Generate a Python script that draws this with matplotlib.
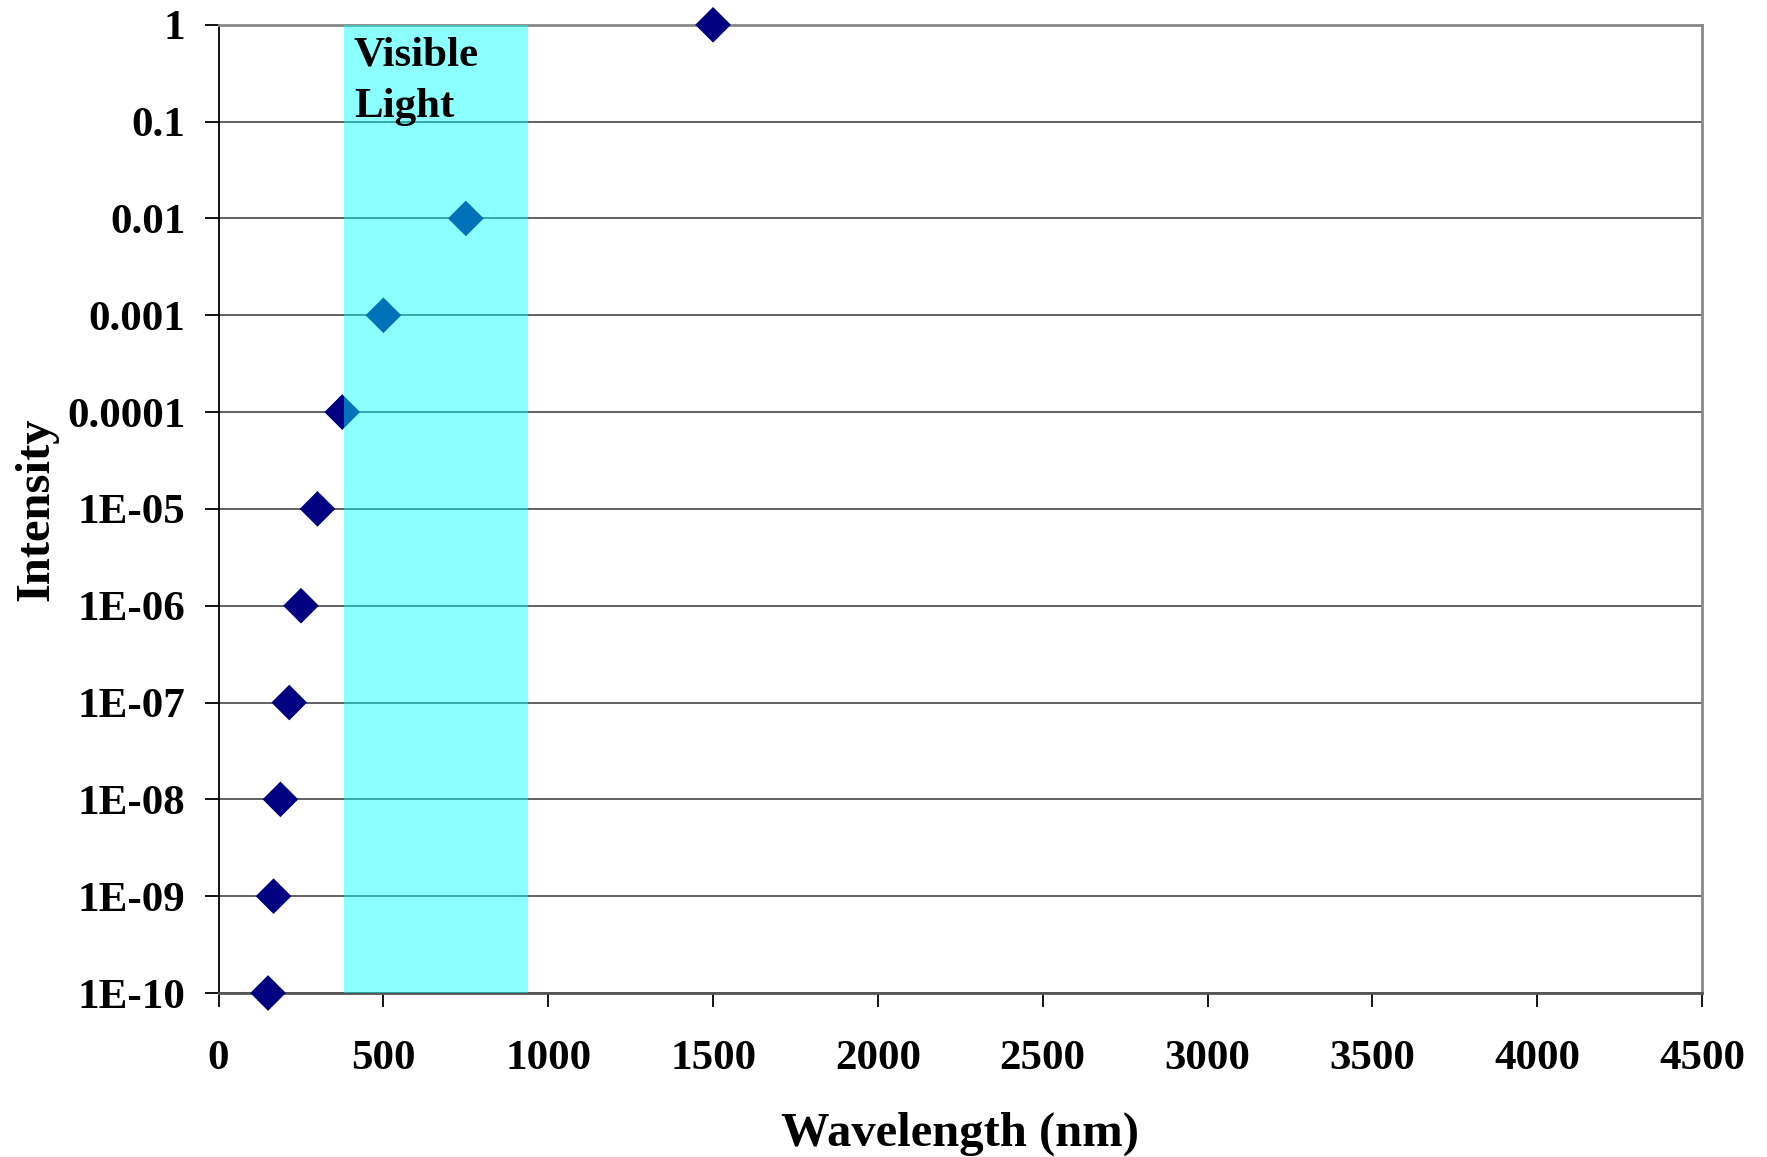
import matplotlib
matplotlib.use("Agg")
import matplotlib.pyplot as plt
from matplotlib.patches import Rectangle
from matplotlib.ticker import FixedLocator, FixedFormatter

# data
wavelength = [150, 166.7, 187.5, 214.3, 250, 300, 375, 500, 750, 1500]
intensity = [1e-10, 1e-9, 1e-8, 1e-7, 1e-6, 1e-5, 1e-4, 1e-3, 1e-2, 1]
visible_band = (380, 940)
y_ticks = [1e-10, 1e-9, 1e-8, 1e-7, 1e-6, 1e-5, 1e-4, 1e-3, 1e-2, 1e-1, 1]
y_labels = ["1E-10", "1E-09", "1E-08", "1E-07", "1E-06", "1E-05",
            "0.0001", "0.001", "0.01", "0.1", "1"]
x_ticks = [0, 500, 1000, 1500, 2000, 2500, 3000, 3500, 4000, 4500]

plt.rcParams['font.family'] = ['Liberation Serif', 'DejaVu Serif']
plt.rcParams['font.weight'] = 'bold'

fig = plt.figure(figsize=(17.67, 11.57), dpi=100)
ax = fig.add_axes([218.6 / 1767, 1 - 993 / 1157, (1702 - 218.6) / 1767, (993 - 24.8) / 1157])

ax.set_yscale('log')
ax.set_xlim(0, 4500)
ax.set_ylim(1e-10, 1)

for t in y_ticks:
    ax.axhline(t, color='#555555', lw=1.3, zorder=1)

ax.scatter(wavelength, intensity, marker='D', s=330, color='#000080',
           edgecolors='none', zorder=3, clip_on=False)

band = Rectangle((visible_band[0], 1e-10), visible_band[1] - visible_band[0], 1,
                 transform=ax.get_xaxis_transform(), facecolor='#00ffff',
                 alpha=0.45, edgecolor='none', zorder=4)
ax.add_patch(band)
ax.text(visible_band[0] + 30, 0.75, "Visible\nLight", fontsize=31, fontweight='bold',
        va='top', ha='left', linespacing=1.45, zorder=5)

ax.yaxis.set_major_locator(FixedLocator(y_ticks))
ax.yaxis.set_major_formatter(FixedFormatter(y_labels))
ax.yaxis.set_minor_locator(FixedLocator([]))
ax.set_xticks(x_ticks)
ax.tick_params(axis='both', labelsize=31, length=10, width=1.3, direction='out')
ax.tick_params(axis='y', pad=14)
ax.tick_params(axis='x', pad=24)
for lbl in ax.get_xticklabels() + ax.get_yticklabels():
    lbl.set_fontweight('bold')

ax.spines['top'].set_color('#888888')
ax.spines['right'].set_color('#888888')
ax.spines['bottom'].set_color('#555555')
for s in ax.spines.values():
    s.set_linewidth(2)
ax.spines['left'].set_linewidth(1.3)
ax.spines['left'].set_color('black')

ax.set_xlabel("Wavelength (nm)", fontsize=35, fontweight='bold', labelpad=24)
ax.set_ylabel("Intensity", fontsize=35, fontweight='bold', labelpad=6)

fig.savefig("out.png", dpi=100)
